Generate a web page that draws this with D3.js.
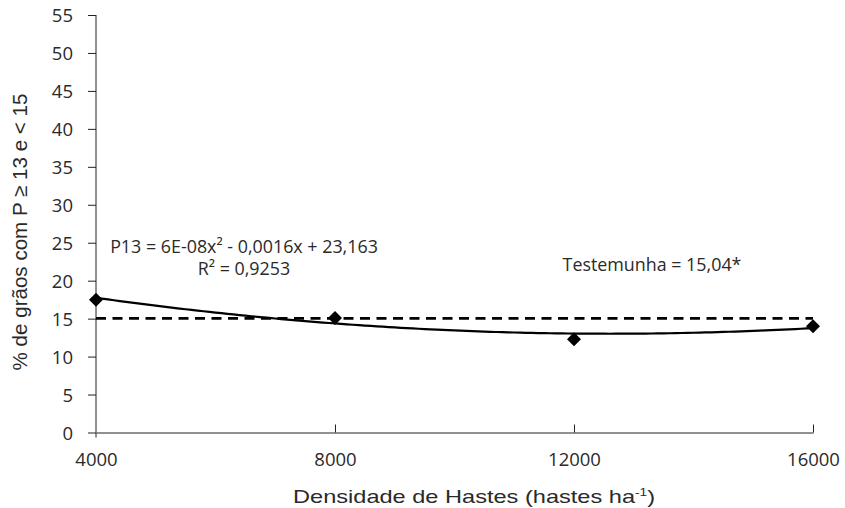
<!DOCTYPE html>
<html>
<head>
<meta charset="utf-8">
<script src="https://cdn.jsdelivr.net/npm/d3@7"></script>
<style>
  html, body { margin: 0; padding: 0; background: #fff; }
  svg { display: block; }
</style>
</head>
<body>
<svg id="chart" width="845" height="508"></svg>
<script>
// ---- data ----
const densities = [4000, 8000, 12000, 16000];
const grainPct = [17.5, 15.1, 12.3, 14.0];
const controlValue = 15.04;
const xTicks = [4000, 8000, 12000, 16000];
const yTicks = [0, 5, 10, 15, 20, 25, 30, 35, 40, 45, 50, 55];
const equationLabel = "P13 = 6E-08x² - 0,0016x + 23,163";
const r2Label = "R² = 0,9253";
const controlLabel = "Testemunha = 15,04*";
const xTitle = "Densidade de Hastes (hastes ha";
const yTitle = "% de grãos com P ≥ 13 e < 15";

const svg = d3.select("#chart");
const x = d3.scaleLinear().domain([4000, 16000]).range([96, 813]);
const y = d3.scaleLinear().domain([0, 55]).range([432.5, 15]);

const tickFont = "'Open Sans', 'Noto Sans', sans-serif";
const textColor = "#2a2a2a";

// ---- y axis ----
const yAxis = svg.append("g").attr("transform", `translate(${x(4000)},0)`)
  .call(d3.axisLeft(y).tickValues(yTicks).tickSize(8).tickPadding(15).tickSizeOuter(0));
yAxis.select(".domain").attr("stroke", "#222").attr("stroke-width", 1)
  .attr("d", `M0,${y(55)}V${y(0) + 5}`);
yAxis.selectAll(".tick line").attr("stroke", "#222");
yAxis.selectAll(".tick text").attr("font-family", tickFont).attr("font-size", 18.5)
  .attr("fill", textColor).attr("dy", "0.36em");

// ---- x axis ----
const xAxis = svg.append("g").attr("transform", `translate(0,${y(0)})`)
  .call(d3.axisBottom(x).tickValues(xTicks).tickSize(-8).tickPadding(20).tickSizeOuter(0)
    .tickFormat(d3.format("d")));
xAxis.select(".domain").attr("stroke", "#222").attr("stroke-width", 1);
xAxis.selectAll(".tick line").attr("stroke", "#222");
xAxis.selectAll(".tick").filter(d => d === 4000).select("line").remove();
xAxis.selectAll(".tick text").attr("font-family", tickFont).attr("font-size", 18.5)
  .attr("fill", textColor);

// ---- control dashed line ----
svg.append("line")
  .attr("x1", x(4000)).attr("x2", x(16000))
  .attr("y1", y(controlValue)).attr("y2", y(controlValue))
  .attr("stroke", "#000").attr("stroke-width", 2.6)
  .attr("stroke-dasharray", "10,6.5");

// ---- quadratic trend fitted to the data (least squares) ----
function quadFit(xs, ys) {
  const n = xs.length;
  let S = [0,0,0,0,0], T = [0,0,0];
  for (let i = 0; i < n; i++) {
    const u = xs[i];
    for (let k = 0; k < 5; k++) S[k] += Math.pow(u, k);
    for (let k = 0; k < 3; k++) T[k] += ys[i] * Math.pow(u, k);
  }
  const A = [[S[0],S[1],S[2],T[0]],[S[1],S[2],S[3],T[1]],[S[2],S[3],S[4],T[2]]];
  for (let c = 0; c < 3; c++) {
    for (let r = c + 1; r < 3; r++) {
      const f = A[r][c] / A[c][c];
      for (let k = c; k < 4; k++) A[r][k] -= f * A[c][k];
    }
  }
  const b = [0,0,0];
  for (let r = 2; r >= 0; r--) {
    let s = A[r][3];
    for (let k = r + 1; k < 3; k++) s -= A[r][k] * b[k];
    b[r] = s / A[r][r];
  }
  return b;
}
const us = densities.map(d => (d - 10000) / 4000);
const coef = quadFit(us, grainPct);
const trendX = d3.range(4000, 16001, 100);
const trendLine = d3.line()
  .x(d => x(d))
  .y(d => { const u = (d - 10000) / 4000; return y(coef[0] + coef[1]*u + coef[2]*u*u); });
svg.append("path").datum(trendX).attr("d", trendLine)
  .attr("fill", "none").attr("stroke", "#000").attr("stroke-width", 2.2);

// ---- diamond markers ----
const pts = densities.map((d, i) => ({ x: d, y: grainPct[i] }));
svg.selectAll(".pt").data(pts).enter().append("path")
  .attr("class", "pt")
  .attr("d", d => {
    const cx = x(d.x), cy = y(d.y), r = 7;
    return `M${cx},${cy - r}L${cx + r},${cy}L${cx},${cy + r}L${cx - r},${cy}Z`;
  })
  .attr("fill", "#000");

// ---- helper to fit text to a target width ----
function fitText(sel, target) {
  const w = sel.node().getComputedTextLength();
  const fs = parseFloat(sel.attr("font-size"));
  sel.attr("font-size", (fs * target / w).toFixed(2));
}

// ---- annotations ----
const eq = svg.append("text").attr("x", 244).attr("y", 253).attr("text-anchor", "middle")
  .attr("font-family", tickFont).attr("font-size", 16).attr("fill", textColor).text(equationLabel);
fitText(eq, 268);
const r2 = svg.append("text").attr("x", 244).attr("y", 275).attr("text-anchor", "middle")
  .attr("font-family", tickFont).attr("font-size", 16).attr("fill", textColor).text(r2Label);
r2.attr("font-size", eq.attr("font-size"));
const ctl = svg.append("text").attr("x", 652).attr("y", 271).attr("text-anchor", "middle")
  .attr("font-family", tickFont).attr("font-size", 16).attr("fill", textColor).text(controlLabel);
ctl.attr("font-size", eq.attr("font-size"));

// ---- axis titles ----
const xt = svg.append("text").attr("x", 474).attr("y", 503).attr("text-anchor", "middle")
  .attr("font-family", "'Liberation Sans', Arial, sans-serif").attr("font-size", 19)
  .attr("fill", textColor);
xt.append("tspan").text(xTitle);
xt.append("tspan").attr("font-size", 11).attr("dy", -7).text("-1");
xt.append("tspan").attr("dy", 7).text(")");
xt.attr("textLength", 362).attr("lengthAdjust", "spacingAndGlyphs");

const yt = svg.append("text")
  .attr("transform", `translate(27,232) rotate(-90)`)
  .attr("text-anchor", "middle")
  .attr("font-family", "'Liberation Sans', Arial, sans-serif").attr("font-size", 18)
  .attr("fill", textColor).text(yTitle);
fitText(yt, 277);
</script>
</body>
</html>
